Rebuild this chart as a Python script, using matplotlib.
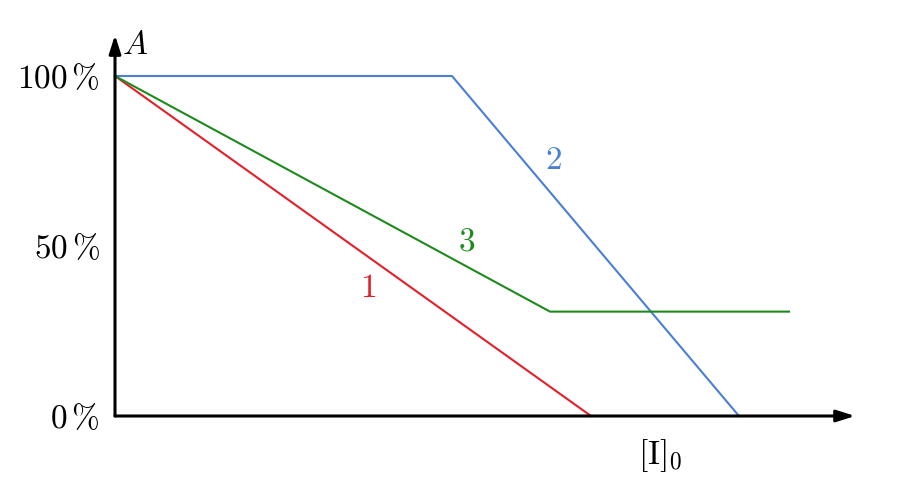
import matplotlib
matplotlib.use("Agg")
import matplotlib.pyplot as plt

plt.rcParams['mathtext.fontset'] = 'cm'
plt.rcParams['font.family'] = ['DejaVu Serif']

# Data (concentration [I]_0 in arbitrary units, activity A in %)
red_x = [0, 4.76]
red_y = [100, 0]
blue_x = [0, 3.37, 6.24]
blue_y = [100, 100, 0]
green_x = [0, 4.35, 6.74]
green_y = [100, 30.7, 30.7]
ytick_vals = [0, 50, 100]
ytick_labels = [r'$0\,\%$', r'$50\,\%$', r'$100\,\%$']

fig = plt.figure(figsize=(9, 4.96), dpi=100)
W, H = 900, 496
ox, oy = 115, 416
ax = fig.add_axes([ox / W, (H - oy) / H, 740 / W, 381 / H])
ax.set_xlim(0, 7.40)
ax.set_ylim(0, 381 / 3.4)

ax.plot(red_x, red_y, color='#e2202a', lw=1.5, clip_on=False)
ax.plot(blue_x, blue_y, color='#4a7fd6', lw=1.5, clip_on=False)
ax.plot(green_x, green_y, color='#1e8a1e', lw=1.5, clip_on=False)

for s in ax.spines.values():
    s.set_visible(False)

# axes arrows
ax.annotate('', xy=(7.40, 0), xytext=(0, 0),
            arrowprops=dict(arrowstyle='-|>,head_length=1.1,head_width=0.35',
                            color='black', lw=2.2, shrinkA=0, shrinkB=0),
            annotation_clip=False)
ax.annotate('', xy=(0, 381 / 3.4), xytext=(0, 0),
            arrowprops=dict(arrowstyle='-|>,head_length=1.1,head_width=0.35',
                            color='black', lw=2.2, shrinkA=0, shrinkB=0),
            annotation_clip=False)

fs = 24
ax.set_xticks([])
ax.set_yticks(ytick_vals)
ax.set_yticklabels(ytick_labels, fontsize=fs)
ax.tick_params(axis='y', length=0, pad=11)

ax.text(0.20, 109, r'$A$', fontsize=fs, ha='center', va='center')
ax.text(5.45, -11.5, r'$[\mathrm{I}]_0$', fontsize=fs, ha='center', va='center')
ax.text(2.53, 37.6, r'$1$', fontsize=fs, ha='center', va='center', color='#e2202a')
ax.text(4.38, 75.3, r'$2$', fontsize=fs, ha='center', va='center', color='#4a7fd6')
ax.text(3.52, 51.2, r'$3$', fontsize=fs, ha='center', va='center', color='#1e8a1e')

fig.savefig('out.png', dpi=100)
